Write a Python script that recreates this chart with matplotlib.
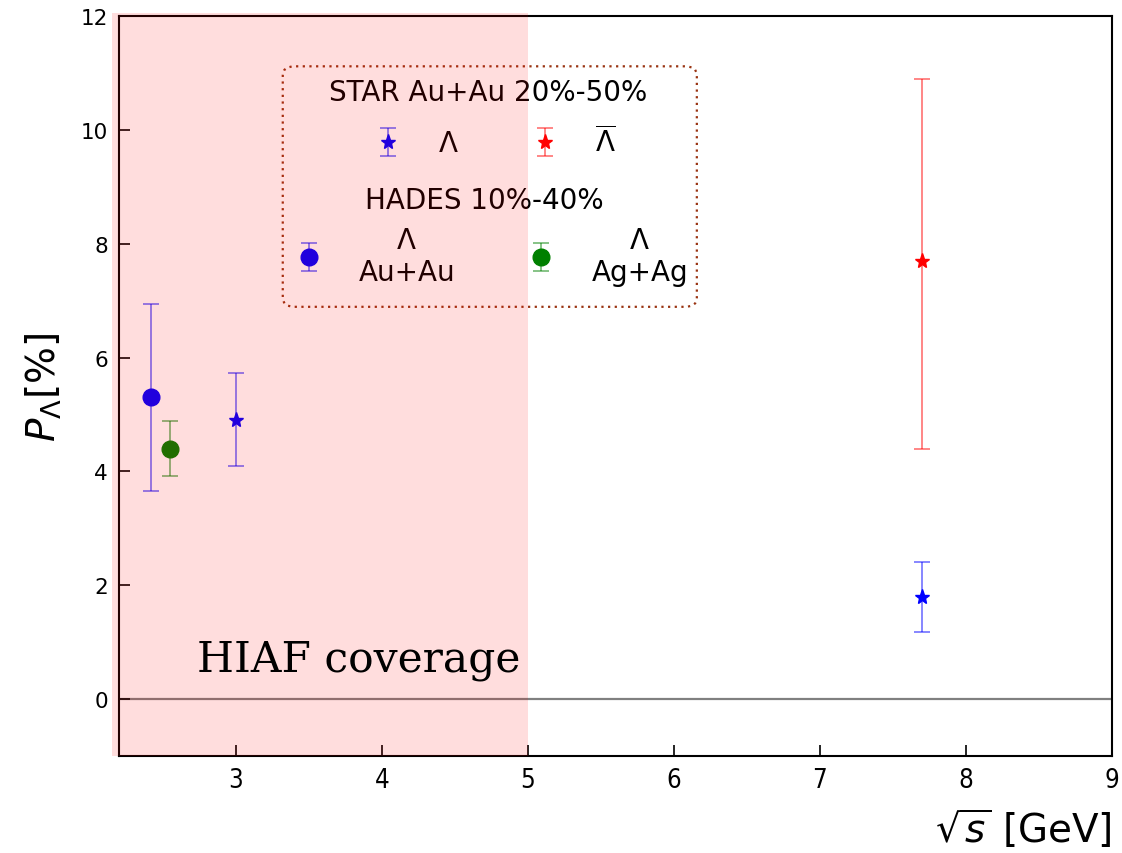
import numpy as np
import matplotlib
matplotlib.use('Agg')
import matplotlib.pyplot as plt
from matplotlib.patches import Rectangle, FancyBboxPatch

# Lambda global polarization vs collision energy
hades_auau_x = [2.42]
hades_auau_y = [5.30]
hades_auau_err = [1.64]

hades_agag_x = [2.55]
hades_agag_y = [4.40]
hades_agag_err = [0.49]

star_lam_x = [3.0, 7.7]
star_lam_y = [4.91, 1.79]
star_lam_err = [0.82, 0.61]

star_alam_x = [7.7]
star_alam_y = [7.70]
star_alam_err_lo = [3.31]
star_alam_err_hi = [3.19]

hiaf_range = (2.2, 5.0)

fig = plt.figure(figsize=(11.22, 8.54), dpi=100)
ax = fig.add_axes([0.106, 0.1136, 0.885, 0.8665])

ax.axhline(0, color='grey', lw=1.6, zorder=1)

ms_c = 12
ms_s = 11
ekw = dict(capsize=5.5, elinewidth=1.1, capthick=1.1, linestyle='none')

h_auau = ax.errorbar(hades_auau_x, hades_auau_y, yerr=hades_auau_err, fmt='o', color='blue',
                     ecolor=(0, 0, 1, 0.6), ms=ms_c, **ekw)
h_agag = ax.errorbar(hades_agag_x, hades_agag_y, yerr=hades_agag_err, fmt='o', color='green',
                     ecolor=(0, 0.5, 0, 0.6), ms=ms_c, **ekw)
s_lam = ax.errorbar(star_lam_x, star_lam_y, yerr=star_lam_err, fmt='*', color='blue',
                    ecolor=(0, 0, 1, 0.6), ms=ms_s, **ekw)
s_alam = ax.errorbar(star_alam_x, star_alam_y, yerr=[star_alam_err_lo, star_alam_err_hi], fmt='*',
                     color='red', ecolor=(1, 0, 0, 0.6), ms=ms_s, **ekw)

ax.set_xlim(2.2, 9)
ax.set_ylim(-1, 12)
ax.set_xticks([3, 4, 5, 6, 7, 8, 9])
ax.set_yticks([0, 2, 4, 6, 8, 10, 12])
ax.tick_params(direction='in', length=8, width=1.2, pad=8)
ax.tick_params(axis='y', labelsize=15.5)
ax.tick_params(axis='x', labelsize=18.5)
for lab in ax.get_xticklabels():
    lab.set_fontstretch('condensed')
for sp in ax.spines.values():
    sp.set_linewidth(1.5)

ax.set_xlabel(r'$\sqrt{s}$ [GeV]', fontsize=28, loc='right', labelpad=10)
ax.set_ylabel(r'$P_{\Lambda}$[%]', fontsize=28, labelpad=12)

# legends: two frameless groups inside one dotted box
lfs = 20
leg1 = ax.legend([s_lam, s_alam], [r'$\Lambda$', r'$\overline{\Lambda}$'],
                 title='STAR Au+Au 20%-50%', ncol=2, frameon=False, fontsize=lfs,
                 title_fontsize=lfs, columnspacing=2.1, handletextpad=0.8, labelspacing=0.7,
                 loc='upper center', bbox_to_anchor=(0.372, 0.942), borderpad=0.2)
ax.add_artist(leg1)
leg2 = ax.legend([h_auau, h_agag], ['$\\Lambda$\nAu+Au', '$\\Lambda$\nAg+Ag'],
                 title='HADES 10%-40%', ncol=2, frameon=False, fontsize=lfs,
                 title_fontsize=lfs, columnspacing=2.1, handletextpad=0.8, labelspacing=0.4,
                 loc='upper center', bbox_to_anchor=(0.368, 0.796), borderpad=0.2)
for t in leg2.get_texts():
    t.set_multialignment('center')

box = FancyBboxPatch((0.165, 0.607), 0.417, 0.325, boxstyle='round,pad=0,rounding_size=0.012',
                     transform=ax.transAxes, fill=False, edgecolor='#993311', lw=1.6,
                     linestyle=(0, (1, 2)), zorder=6)
ax.add_patch(box)

# HIAF energy range overlay
ax.add_patch(Rectangle((2.15, -1), hiaf_range[1] - 2.15, 13.05, facecolor='red', alpha=0.135,
                       edgecolor='none', zorder=10, clip_on=False))
ax.text(4.95, 0.5, 'HIAF coverage', fontsize=30.5, family='DejaVu Serif', ha='right',
        va='baseline', zorder=11)

fig.savefig('out.png', dpi=100)
